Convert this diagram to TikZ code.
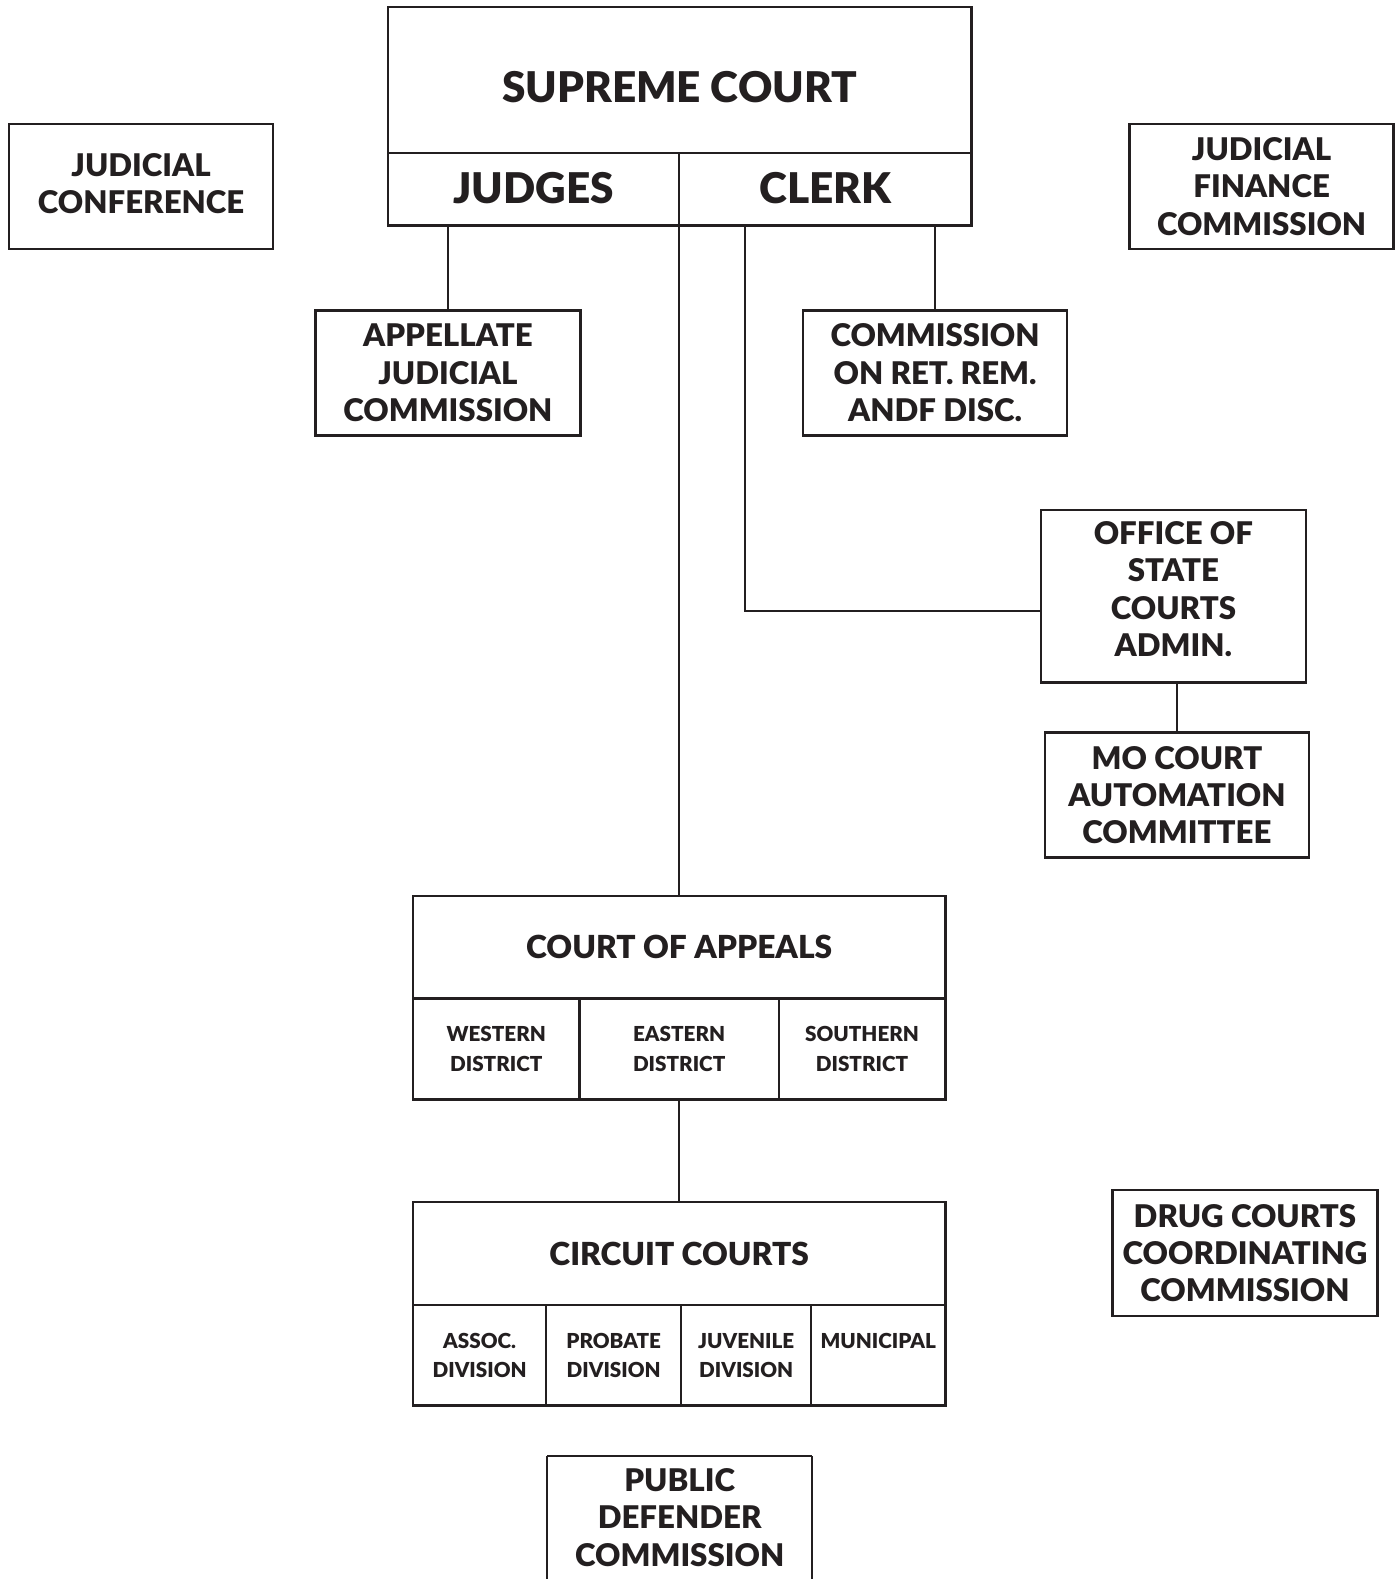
\documentclass[tikz,border=0pt]{standalone}
\usepackage{fontspec}
\setmainfont{Lato}[BoldFont={Lato Black}]
\usetikzlibrary{positioning}
\definecolor{ink}{HTML}{231F20}
\tikzset{
every node/.style={text=ink},
unit/.style={ % plain boxed unit
draw=ink,
line width=2.6pt,
inner sep=0pt,
outer sep=0pt,
align=center,
minimum width=263pt,
minimum height=125pt,
font=\fontsize{31}{37}\selectfont\bfseries},
head/.style={unit, font=\fontsize{42}{48}\selectfont\bfseries},
court/.style={unit, minimum width=528pt, minimum height=102pt,
font=\fontsize{31.5}{36}\selectfont\bfseries},
cell/.style={unit, minimum height=100pt,
font=\fontsize{20.5}{29}\selectfont\bfseries},
link/.style={draw=ink, line width=2pt}}

\begin{document}
\begin{tikzpicture}[x=1pt, y=-1pt]
\useasboundingbox (0,0) rectangle (1388.5,1567);
% supreme court and its two halves
\node[head, minimum width=579pt, minimum height=145pt, text height=45pt] (supreme) at (674.5,79.5) {SUPREME COURT};
\node[head, minimum width=289pt, minimum height=72pt, text height=31pt, text depth=3pt] (judges) at (529.5,188) {JUDGES};
\node[head, minimum width=290pt, minimum height=72pt, text height=31pt, text depth=3pt] (clerk) at (819,188) {CLERK};
% side bodies
\node[unit, minimum width=262pt, minimum height=124pt, text depth=6pt] (conference) at (140,185) {JUDICIAL\\CONFERENCE};
\node[unit, minimum width=262pt, minimum height=124pt] (finance) at (1252,185) {JUDICIAL\\FINANCE\\COMMISSION};
\node[unit, minimum height=124pt] (appellate) at (444.5,370) {APPELLATE\\JUDICIAL\\COMMISSION};
\node[unit, minimum width=262pt, minimum height=124pt] (retirement) at (928,370) {COMMISSION\\ON RET. REM.\\ANDF DISC.};
\node[unit, minimum height=171pt, text depth=14pt] (office) at (1164.5,591.5) {OFFICE OF\\STATE\\COURTS\\ADMIN.};
\node[unit, minimum width=262pt, minimum height=124pt] (automation) at (1168,789) {MO COURT\\AUTOMATION\\COMMITTEE};
\node[unit, minimum width=263pt, minimum height=125pt] (drug) at (1235.5,1243.5) {DRUG COURTS\\COORDINATING\\COMMISSION};
% court of appeals
\node[court] (appeals) at (674,940) {COURT OF APPEALS};
\node[cell, minimum width=165pt] (western) at (492.5,1041) {WESTERN\\DISTRICT};
\node[cell, minimum width=198pt] (eastern) at (674,1041) {EASTERN\\DISTRICT};
\node[cell, minimum width=165pt] (southern) at (855.5,1041) {SOUTHERN\\DISTRICT};
% circuit courts
\node[court] (circuit) at (674,1244) {CIRCUIT COURTS};
\node[cell, minimum width=132pt] (assoc) at (476,1345) {ASSOC.\\DIVISION};
\node[cell, minimum width=134pt] (probate) at (609,1345) {PROBATE\\DIVISION};
\node[cell, minimum width=129pt] (juvenile) at (740.5,1345) {JUVENILE\\DIVISION};
\node[cell, minimum width=133pt] (municipal) at (871.5,1345) {MUNICIPAL\\\mbox{}};
% public defender runs off the page
\node[unit, draw=none, minimum height=122pt] (defender) at (674.5,1506) {PUBLIC\\DEFENDER\\COMMISSION};
\draw[unit] (defender.north west) -- (defender.north east);
\draw[unit] (defender.north west) -- ++(0,160);
\draw[unit] (defender.north east) -- ++(0,160);
% connectors
\coordinate (clerkdrop) at (739,224);
\draw[link] (judges.south -| appellate.north) -- (appellate.north);
\draw[link] (clerk.south -| retirement.north) -- (retirement.north);
\draw[link] (clerkdrop) |- ([yshift=-14.5pt]office.west);
\draw[link] (office.south -| automation.north) -- (automation.north);
\draw[link] (judges.south east) -- (appeals.north);
\draw[link] (eastern.south) -- (circuit.north);
\end{tikzpicture}
\end{document}
